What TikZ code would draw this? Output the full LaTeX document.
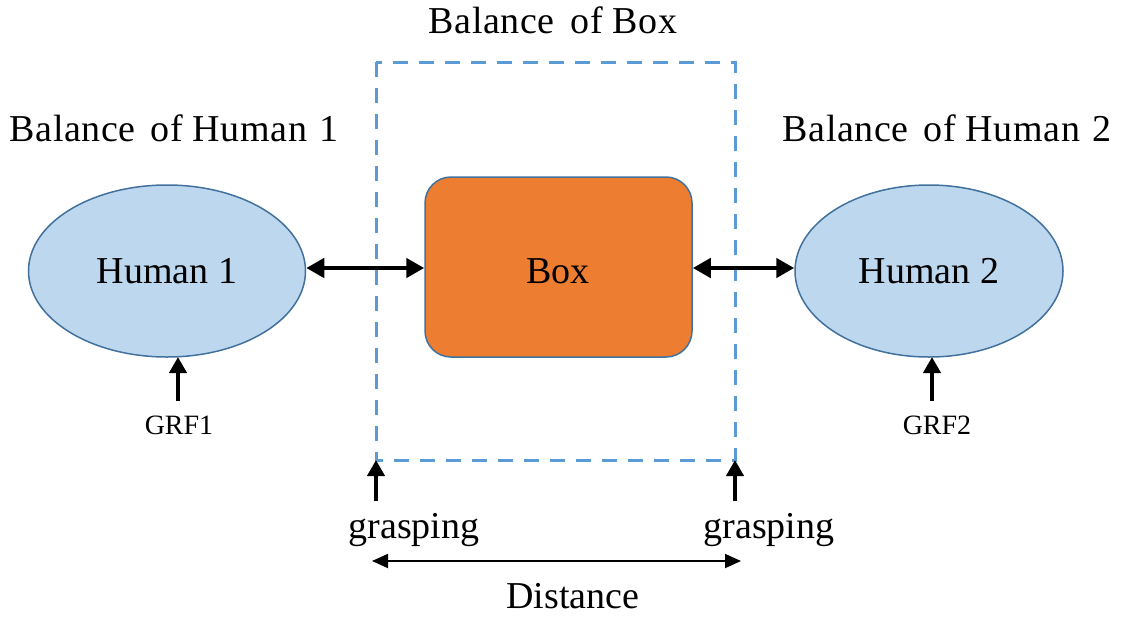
\documentclass[tikz,border=0pt]{standalone}
\usepackage{fontspec}
\setmainfont{Liberation Serif}
\usetikzlibrary{arrows.meta,shapes.geometric}
\definecolor{humanfill}{HTML}{BDD7EE}
\definecolor{shapeedge}{HTML}{41719C}
\definecolor{boxfill}{HTML}{ED7D31}
\definecolor{dashblue}{HTML}{5B9BD5}
\tikzset{
  bigtext/.style={font=\fontsize{38}{42}\selectfont, inner sep=0pt},
  titletext/.style={font=\fontsize{38}{42}\selectfont\addfontfeatures{LetterSpace=1.5}, inner sep=0pt},
  smalltext/.style={font=\fontsize{28}{32}\selectfont, inner sep=0pt},
  human/.style={ellipse, draw=shapeedge, line width=1.5pt, fill=humanfill,
    minimum width=277pt, minimum height=172pt, inner sep=0pt,
    font=\fontsize{38}{42}\selectfont},
  boxnode/.style={rectangle, rounded corners=26pt, draw=shapeedge, line width=1.5pt,
    fill=boxfill, minimum width=267pt, minimum height=180pt, inner sep=0pt,
    font=\fontsize{38}{42}\selectfont},
  link/.style={line width=4.5pt, {Triangle[length=18pt,width=19pt]}-{Triangle[length=18pt,width=19pt]}},
  push/.style={line width=4.5pt, -{Triangle[length=16pt,width=17pt]}},
  span/.style={line width=1.8pt, {Triangle[length=16pt,width=14pt]}-{Triangle[length=16pt,width=14pt]}},
  region/.style={draw=dashblue, line width=3pt, dash pattern=on 15pt off 11pt}
}
\begin{document}
\begin{tikzpicture}[x=1pt,y=-1pt]
  \useasboundingbox (0,0) rectangle (1127,619);

  % balance region around the box
  \draw[region] (376,62) rectangle (735,460);

  % bodies
  \node[human] (h1) at (167,271) {Human 1};
  \node[human, minimum width=268pt] (h2) at (929,271) {Human 2};
  \node[boxnode] (box) at (558.5,267) {};
  \node[bigtext] (boxlabel) at (558,271) {Box};

  % interaction forces
  \draw[link] (h1.east |- 0,268) -- (box.west |- 0,268);
  \draw[link] (box.east |- 0,268) -- (h2.west |- 0,268);

  % ground reaction forces
  \node[smalltext] (grf1) at (179,425) {GRF1};
  \node[smalltext] (grf2) at (937,425) {GRF2};
  \coordinate (g1top) at (178,357);
  \coordinate (g2top) at (932,357);
  \draw[push] (178,401) -- (g1top);
  \draw[push] (932,401) -- (g2top);

  % grasping forces at the box corners
  \coordinate (c1) at (376,460);
  \coordinate (c2) at (735,460);
  \draw[push] (376,501) -- (c1);
  \draw[push] (735,501) -- (c2);
  \node[bigtext] (gr1) at (414,530) {grasping};
  \node[bigtext] (gr2) at (769,530) {grasping};

  % distance between grasps
  \coordinate (d1) at (372,561);
  \coordinate (d2) at (741,561);
  \draw[span] (d1) -- (d2);
  \node[bigtext] (dist) at (573,596) {Distance};

  % titles
  \node[titletext] (tb) at (553,20) {Balance\hspace{16pt}of Box};
  \node[titletext] (t1) at (174,128) {Balance\hspace{15pt}of Human\hspace{12pt}1};
  \node[titletext] (t2) at (947,128) {Balance\hspace{15pt}of Human\hspace{12pt}2};
\end{tikzpicture}
\end{document}
